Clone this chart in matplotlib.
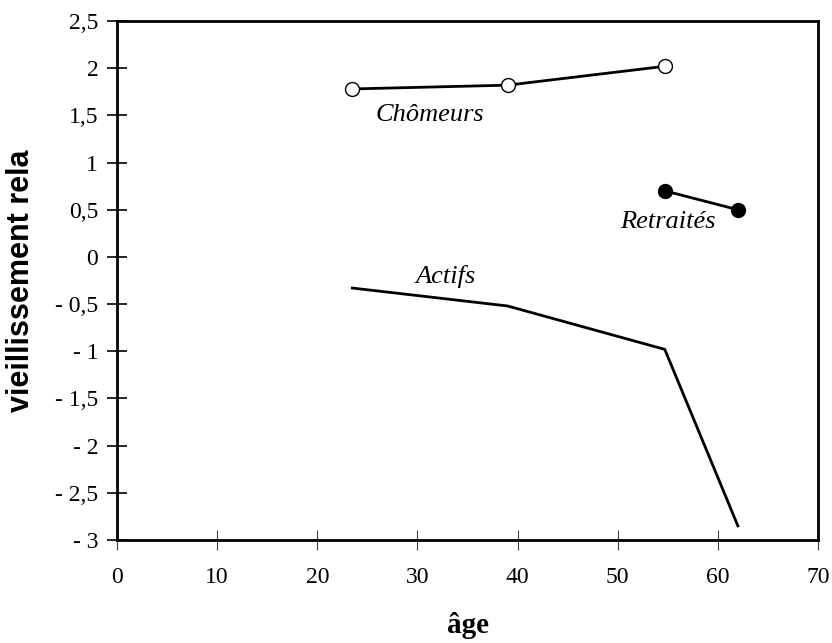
import matplotlib.pyplot as plt
from matplotlib.ticker import FuncFormatter

# données
age_chom = [23.5, 39.0, 54.7]
val_chom = [1.78, 1.82, 2.02]

age_retr = [54.7, 62.0]
val_retr = [0.70, 0.50]

age_act = [23.5, 39.0, 54.7, 62.0]
val_act = [-0.33, -0.52, -0.98, -2.85]

x_ticks = [0, 10, 20, 30, 40, 50, 60, 70]
y_ticks = [2.5, 2, 1.5, 1, 0.5, 0, -0.5, -1, -1.5, -2, -2.5, -3]

serif = 'Liberation Serif'
sans = 'Liberation Sans'


def fmt_y(v, pos):
    s = ('%g' % abs(v)).replace('.', ',')
    if v < 0:
        return '- ' + s
    return s


fig = plt.figure(figsize=(8.32, 6.43), dpi=100)
ax = fig.add_axes([117 / 832, 1 - 540 / 643, (818 - 117) / 832, (540 - 21) / 643])

ax.plot(age_act, val_act, color='black', lw=2)
ax.plot(age_retr, val_retr, color='black', lw=2, marker='o', ms=10,
        markerfacecolor='black', markeredgecolor='black')
ax.plot(age_chom, val_chom, color='black', lw=2, marker='o', ms=10,
        markerfacecolor='white', markeredgecolor='black', markeredgewidth=1)

# étiquettes des courbes
ax.text(31.2, 1.50, 'Chômeurs', fontsize=19, style='italic', family=serif,
        ha='center', va='center')
ax.text(55.0, 0.37, 'Retraités', fontsize=19, style='italic', family=serif,
        ha='center', va='center')
ax.text(32.8, -0.21, 'Actifs', fontsize=19, style='italic', family=serif,
        ha='center', va='center')

ax.set_xlim(0, 70)
ax.set_ylim(-3, 2.5)
ax.set_xticks(x_ticks)
ax.set_yticks(y_ticks)
ax.yaxis.set_major_formatter(FuncFormatter(fmt_y))

for sp in ax.spines.values():
    sp.set_linewidth(2)

ax.tick_params(axis='y', direction='inout', length=15, width=1.2, pad=6)
ax.tick_params(axis='x', direction='inout', length=15, width=0.8,
               color='#444444', pad=12)
for lab in ax.get_xticklabels() + ax.get_yticklabels():
    lab.set_fontfamily(serif)
    lab.set_fontsize(17)

ax.set_xlabel('âge', fontsize=21, fontweight='bold', family=serif, labelpad=17)
ax.set_ylabel('vieillissement rela', fontsize=22, fontweight='bold', family=sans,
              labelpad=14)

fig.savefig('out.png', dpi=100)
